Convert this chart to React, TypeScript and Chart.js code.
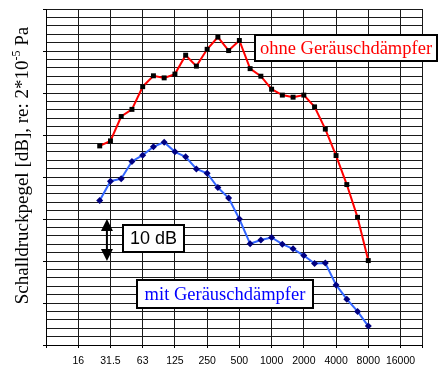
import React, { useEffect, useRef } from "react";
import { Chart, registerables } from "chart.js";

Chart.register(...registerables);

// third-octave band centre frequencies (Hz)
const frequencies = [25, 31.5, 40, 50, 63, 80, 100, 125, 160, 200, 250, 315, 400, 500, 630, 800, 1000, 1250, 1600, 2000, 2500, 3150, 4000, 5000, 6300, 8000];
// sound pressure level without silencer (dB)
const ohneValues = [47.4, 48.6, 54.4, 56.1, 61.5, 64.1, 63.6, 64.5, 69.0, 66.4, 70.4, 73.3, 70.1, 72.5, 65.8, 64.0, 60.9, 59.5, 59.0, 59.5, 56.7, 51.4, 45.1, 38.2, 30.4, 20.1];
// sound pressure level with silencer (dB)
const mitValues = [34.4, 39.0, 39.6, 43.7, 45.2, 47.2, 48.3, 46.0, 44.8, 41.9, 40.9, 37.5, 35.0, 30.0, 24.1, 25.0, 25.6, 24.0, 22.9, 21.3, 19.4, 19.5, 14.3, 10.9, 8.0, 4.5];
// octave tick labels
const tickFrequencies = [16, 31.5, 63, 125, 250, 500, 1000, 2000, 4000, 8000, 16000];
const tickLabels = ["16", "31.5", "63", "125", "250", "500", "1000", "2000", "4000", "8000", "16000"];
const xMinFreq = 8;
const xMaxFreq = 25000;
const yMin = 0;
const yMax = 80;
const yMinorStep = 2;
const yMajorStep = 10;

const band = (f: number) => Math.round(10 * Math.log10(f));

const SERIF = '"Liberation Serif", "Times New Roman", serif';
const SANS = '"Liberation Sans", Arial, sans-serif';

const annotPlugin = {
  id: "annotations",
  afterDraw(chart: any) {
    const { ctx, chartArea: ca, scales } = chart;
    const xs = scales.x;
    const ys = scales.y;
    ctx.save();

    // y-axis title with superscript
    const parts = [
      { t: "Schalldruckpegel [dB], re: 2*10", f: `19px ${SERIF}`, dy: 0 },
      { t: "-5", f: `12px ${SERIF}`, dy: -8 },
      { t: " Pa", f: `19px ${SERIF}`, dy: 0 },
    ];
    let total = 0;
    const widths = parts.map((p) => {
      ctx.font = p.f;
      const w = ctx.measureText(p.t).width;
      total += w;
      return w;
    });
    const cy = ca.top + 156.5;
    ctx.translate(28, cy + total / 2);
    ctx.rotate(-Math.PI / 2);
    ctx.fillStyle = "#000";
    ctx.textBaseline = "alphabetic";
    ctx.textAlign = "left";
    let off = 0;
    parts.forEach((p, i) => {
      ctx.font = p.f;
      ctx.fillText(p.t, off, p.dy);
      off += widths[i];
    });
    ctx.setTransform(1, 0, 0, 1, 0, 0);

    // 10 dB arrow
    const ax = xs.getPixelForValue(14.67);
    const aTop = ys.getPixelForValue(30);
    const aBot = ys.getPixelForValue(20);
    const hh = 11;
    const hw = 6;
    ctx.strokeStyle = "#000";
    ctx.lineWidth = 2;
    ctx.beginPath();
    ctx.moveTo(ax, aTop + hh);
    ctx.lineTo(ax, aBot - hh);
    ctx.stroke();
    ctx.fillStyle = "#000";
    ctx.beginPath();
    ctx.moveTo(ax, aTop);
    ctx.lineTo(ax - hw, aTop + hh + 1);
    ctx.lineTo(ax + hw, aTop + hh + 1);
    ctx.closePath();
    ctx.fill();
    ctx.beginPath();
    ctx.moveTo(ax, aBot);
    ctx.lineTo(ax - hw, aBot - hh - 1);
    ctx.lineTo(ax + hw, aBot - hh - 1);
    ctx.closePath();
    ctx.fill();

    const box = (x: number, y: number, w: number, h: number, text: string, font: string, color: string) => {
      ctx.fillStyle = "#fff";
      ctx.fillRect(x, y, w, h);
      ctx.strokeStyle = "#000";
      ctx.lineWidth = 2;
      ctx.strokeRect(x, y, w, h);
      ctx.fillStyle = color;
      ctx.font = font;
      ctx.textAlign = "center";
      ctx.textBaseline = "middle";
      ctx.fillText(text, x + w / 2, y + h / 2 + 1);
    };

    box(ca.left + 77, ca.top + 216, 61, 27, "10 dB", `18px ${SANS}`, "#000");
    box(ca.left + 209, ca.top + 26, 182, 26, "ohne Geräuschdämpfer", `18.5px ${SERIF}`, "#ff0000");
    box(ca.left + 91, ca.top + 271, 176, 28, "mit Geräuschdämpfer", `18.5px ${SERIF}`, "#0000ff");

    ctx.restore();
  },
};

export default function App() {
  const ref = useRef<HTMLCanvasElement | null>(null);

  useEffect(() => {
    if (!ref.current) return;
    const xTickValues = [band(xMinFreq), ...tickFrequencies.map(band), band(xMaxFreq)];
    const yTickValues: number[] = [];
    for (let v = yMin; v <= yMax; v += yMinorStep) yTickValues.push(v);

    const chart = new Chart(ref.current, {
      type: "line",
      data: {
        datasets: [
          {
            label: "ohne Geräuschdämpfer",
            data: frequencies.map((f, i) => ({ x: band(f), y: ohneValues[i] })),
            borderColor: "#ff0000",
            borderWidth: 2,
            pointStyle: "rect",
            pointRadius: 3.5,
            pointBackgroundColor: "#000",
            pointBorderColor: "#000",
            pointBorderWidth: 0,
            tension: 0,
          },
          {
            label: "mit Geräuschdämpfer",
            data: frequencies.map((f, i) => ({ x: band(f), y: mitValues[i] })),
            borderColor: "#3366ff",
            borderWidth: 2,
            pointStyle: "rectRot",
            pointRadius: 3.5,
            pointBackgroundColor: "#000080",
            pointBorderColor: "#000080",
            pointBorderWidth: 0,
            tension: 0,
          },
        ],
      },
      options: {
        responsive: false,
        animation: false,
        layout: { padding: { top: 9, right: 18, left: 0, bottom: 0 } },
        plugins: {
          legend: { display: false },
          tooltip: { enabled: false },
        },
        scales: {
          x: {
            type: "linear",
            min: band(xMinFreq),
            max: band(xMaxFreq),
            afterBuildTicks: (scale: any) => {
              scale.ticks = xTickValues.map((v) => ({ value: v }));
            },
            afterFit: (scale: any) => {
              scale.height = 24;
            },
            grid: {
              color: "#1a1a1a",
              lineWidth: 1,
              tickLength: 3,
              tickColor: "#000",
            },
            border: { color: "#000", width: 1 },
            ticks: {
              autoSkip: false,
              maxRotation: 0,
              padding: 7,
              color: "#000",
              font: { family: SANS, size: 10.5 },
              callback: (value: any) => {
                const idx = tickFrequencies.findIndex((f) => band(f) === value);
                return idx >= 0 ? tickLabels[idx] : "";
              },
            },
          },
          y: {
            type: "linear",
            min: yMin,
            max: yMax,
            afterBuildTicks: (scale: any) => {
              scale.ticks = yTickValues.map((v) => ({ value: v }));
            },
            afterFit: (scale: any) => {
              scale.width = 46;
            },
            grid: {
              color: "#1a1a1a",
              lineWidth: 1,
              tickLength: 3,
              tickColor: (c: any) => (c.tick && c.tick.value % yMajorStep === 0 ? "#000" : "rgba(0,0,0,0)"),
            },
            border: { color: "#000", width: 1 },
            ticks: { display: false },
          },
        },
      },
      plugins: [annotPlugin],
    });
    return () => chart.destroy();
  }, []);

  return (
    <div style={{ position: "absolute", left: 0, top: 0, width: 440, height: 369, background: "#fff" }}>
      <canvas ref={ref} width={440} height={369} style={{ display: "block" }} />
    </div>
  );
}
